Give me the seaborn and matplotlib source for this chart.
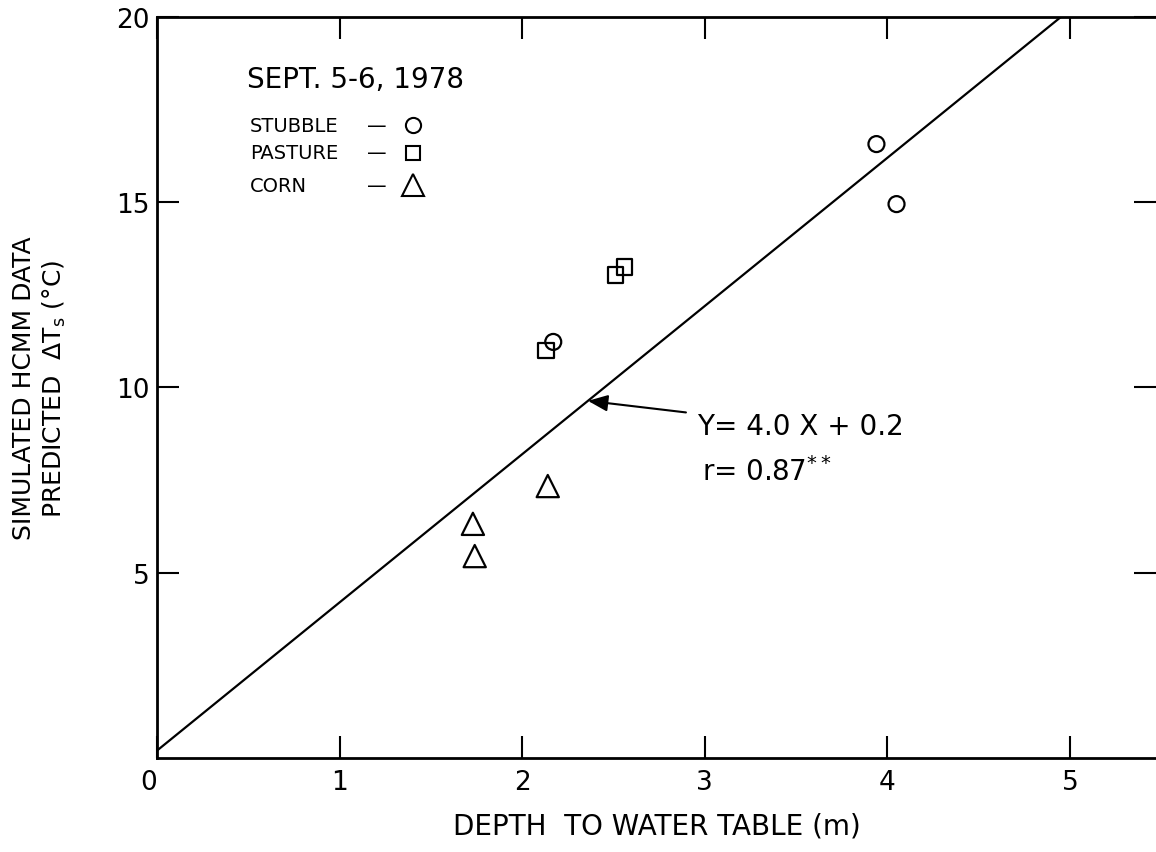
import matplotlib
matplotlib.use("Agg")
import matplotlib.pyplot as plt
import seaborn as sns
import pandas as pd

# ---------------- data ----------------
cover = ["STUBBLE", "STUBBLE", "STUBBLE",
         "PASTURE", "PASTURE", "PASTURE",
         "CORN", "CORN", "CORN"]
depth_m = [2.17, 3.94, 4.05,
           2.13, 2.51, 2.56,
           1.73, 1.74, 2.14]
delta_ts = [11.23, 16.57, 14.95,
            10.99, 13.04, 13.25,
            6.32, 5.45, 7.34]
slope = 4.0
intercept = 0.2
fit_x = [0.0, 5.0]
x_ticks = [0, 1, 2, 3, 4, 5]
y_ticks = [5, 10, 15, 20]
legend_labels = ["STUBBLE", "PASTURE", "CORN"]

# ---------------- style ----------------
sns.set_theme(style="ticks")
plt.rcParams["font.family"] = ["DejaVu Sans"]
plt.rcParams["text.color"] = "black"
plt.rcParams["axes.labelcolor"] = "black"

markers = {"STUBBLE": "o", "PASTURE": "s", "CORN": "^"}
msizes = {"STUBBLE": 11.5, "PASTURE": 11.0, "CORN": 16.0}

df = pd.DataFrame({"cover": cover, "depth": depth_m, "dts": delta_ts})
fit_df = pd.DataFrame({"x": fit_x, "y": [slope * v + intercept for v in fit_x]})

fig = plt.figure(figsize=(11.56, 8.53), dpi=100)
ax = fig.add_axes([157 / 1156, 1 - 759 / 853, 999 / 1156, 741 / 853])

sns.lineplot(data=fit_df, x="x", y="y", color="black", linewidth=1.6, ax=ax)

for name in legend_labels:
    sub = df[df["cover"] == name]
    sns.scatterplot(data=sub, x="depth", y="dts", marker=markers[name],
                    s=msizes[name] ** 2, facecolor="none", edgecolor="black",
                    linewidth=1.6, ax=ax, zorder=3)

ax.set_xlim(0, 999 / 182.6)
ax.set_ylim(0, 20)
ax.set_xticks(x_ticks)
ax.set_xticklabels([str(v) for v in x_ticks])
ax.set_yticks(y_ticks)
ax.set_yticklabels([str(v) for v in y_ticks])

for side in ["left", "top", "bottom"]:
    ax.spines[side].set_linewidth(2.0)
    ax.spines[side].set_color("black")
ax.spines["right"].set_visible(False)

ax.tick_params(axis="both", direction="in", length=16, width=1.5,
               labelsize=19, colors="black",
               top=True, right=True, labeltop=False, labelright=False)
ax.tick_params(axis="x", pad=8)
ax.tick_params(axis="y", pad=5)
ax.get_xticklabels()[0].set_horizontalalignment("right")

ax.set_xlabel("DEPTH  TO WATER TABLE (m)", fontsize=20, labelpad=12)
ax.set_ylabel("SIMULATED HCMM DATA\nPREDICTED  $\\Delta$T$_\\mathrm{s}$ (°C)",
              fontsize=18, linespacing=1.25)
ax.yaxis.set_label_coords(-0.089, 0.5)

# in-plot legend block
ax.text(0.090, 0.916, "SEPT. 5-6, 1978", transform=ax.transAxes,
        fontsize=20, ha="left", va="center")
rows_y = [0.854, 0.817, 0.773]
for name, yy in zip(legend_labels, rows_y):
    ax.text(0.093, yy, name, transform=ax.transAxes, fontsize=14,
            ha="left", va="center")
    ax.text(0.220, yy, "\u2014", transform=ax.transAxes, fontsize=14,
            ha="center", va="center")
    ax.plot([0.256], [yy], transform=ax.transAxes, marker=markers[name],
            markersize=msizes[name] * 0.95, markerfacecolor="none",
            markeredgecolor="black", markeredgewidth=1.5, linestyle="none",
            clip_on=False)

# regression annotation
ax.annotate("Y= 4.0 X + 0.2", xy=(2.36, slope * 2.36 + intercept),
            xytext=(2.96, 8.96), fontsize=20, ha="left", va="center",
            arrowprops=dict(arrowstyle="-|>,head_length=0.6,head_width=0.25",
                            color="black", lw=1.5, shrinkA=6, shrinkB=0))
ax.text(2.985, 7.75, "r= 0.87$^{**}$", fontsize=20, ha="left", va="center")

fig.savefig("out.png", dpi=100)
